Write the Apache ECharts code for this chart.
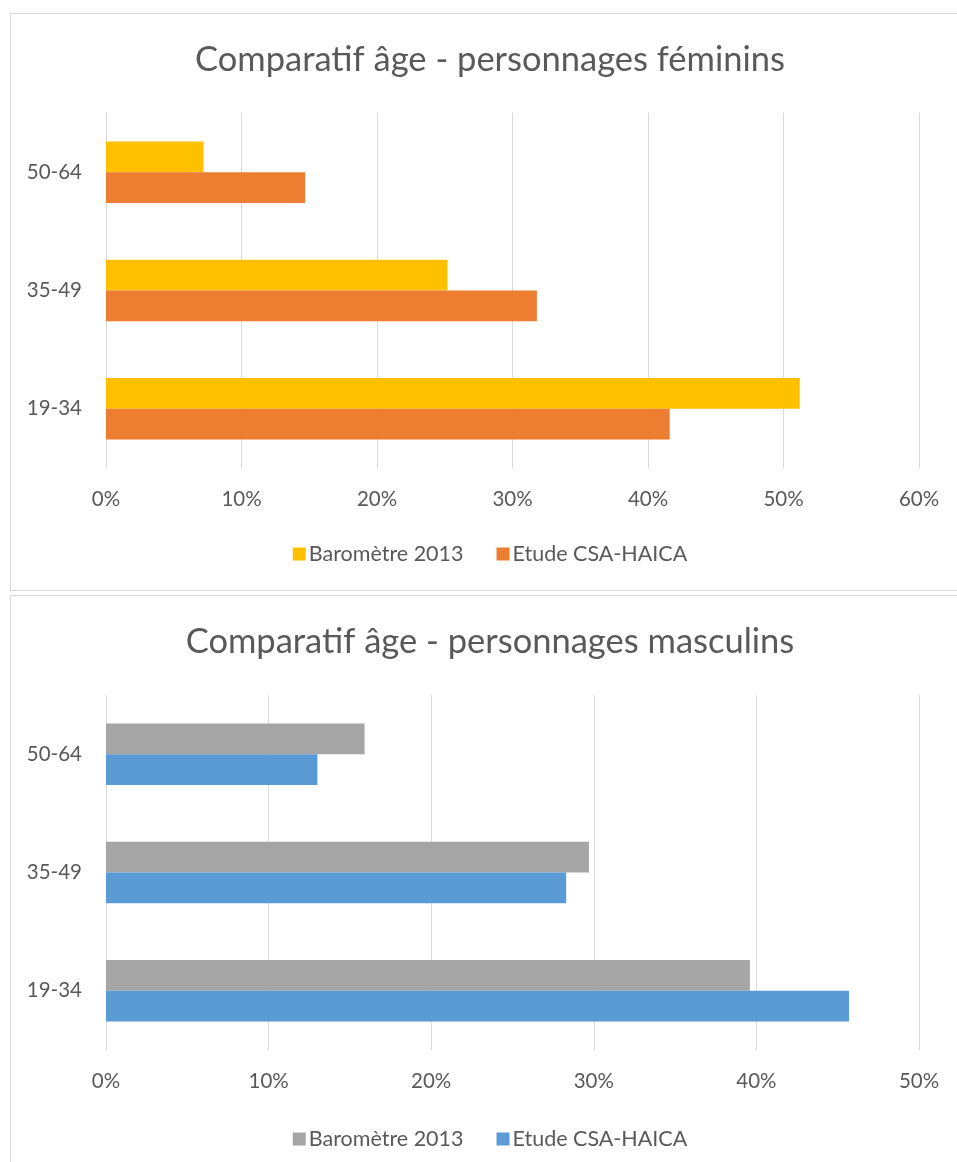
<!DOCTYPE html>
<html>
<head>
<meta charset="utf-8">
<script src="https://cdn.jsdelivr.net/npm/echarts@6/dist/echarts.min.js"></script>
<style>
  html, body { margin: 0; padding: 0; width: 957px; height: 1162px; overflow: hidden; background: #fff; }
  .frame { position: absolute; border: 1px solid #d9d9d9; box-sizing: border-box; }
  .chart { position: absolute; left: 10px; width: 960px; }
</style>
</head>
<body>
<div class="frame" style="left:10px; top:13px; width:960px; height:578px;"></div>
<div class="frame" style="left:10px; top:595px; width:960px; height:600px;"></div>
<div id="c1" class="chart" style="top:0px; height:592px;"></div>
<div id="c2" class="chart" style="top:592px; height:570px;"></div>
<script>
const categories = ['19-34', '35-49', '50-64'];
const seriesNames = ['Baromètre 2013', 'Etude CSA-HAICA'];
const femBarometre = [51.2, 25.2, 7.2];
const femEtude = [41.6, 31.8, 14.7];
const mascBarometre = [39.6, 29.7, 15.9];
const mascEtude = [45.7, 28.3, 13.0];
const femTitle = 'Comparatif âge - personnages féminins';
const mascTitle = 'Comparatif âge - personnages masculins';

const FONT = 'Lato';
const TXT = '#595959';

function makeOption(title, max, data1, data2, colors, layout) {
  return {
    animation: false,
    textStyle: { fontFamily: FONT },
    title: {
      text: title, left: 'center', top: layout.titleTop,
      textStyle: { fontFamily: FONT, fontSize: 34.5, fontWeight: 'normal', color: TXT }
    },
    legend: {
      top: layout.legendTop, left: 'center',
      itemWidth: 13, itemHeight: 13, itemGap: 33,
      icon: 'rect',
      textStyle: { fontFamily: FONT, fontSize: 21.5, color: TXT, padding: [0, 0, 0, -2] },
      data: seriesNames
    },
    grid: { left: 96, top: layout.gridTop, width: 813, height: 355, containLabel: false },
    xAxis: {
      type: 'value', min: 0, max: max, interval: 10,
      axisLine: { show: false }, axisTick: { show: false },
      axisLabel: { formatter: '{value}%', fontFamily: FONT, fontSize: 20.5, color: TXT, margin: 21 },
      splitLine: { show: true, lineStyle: { color: '#d9d9d9', width: 1 } }
    },
    yAxis: {
      type: 'category', data: categories,
      axisLine: { show: false }, axisTick: { show: false },
      axisLabel: { fontFamily: FONT, fontSize: 20.5, color: TXT, margin: 24 }
    },
    series: [
      { name: seriesNames[0], type: 'bar', data: data1, barWidth: '26%', barGap: '0%',
        itemStyle: { color: colors[0] } },
      { name: seriesNames[1], type: 'bar', data: data2, barWidth: '26%', barGap: '0%',
        itemStyle: { color: colors[1] } }
    ]
  };
}

const c1 = echarts.init(document.getElementById('c1'), null, { renderer: 'canvas' });
c1.setOption(makeOption(femTitle, 60, femBarometre, femEtude, ['#FFC000', '#ED7D31'],
  { titleTop: 37, legendTop: 538, gridTop: 113 }));

const c2 = echarts.init(document.getElementById('c2'), null, { renderer: 'canvas' });
c2.setOption(makeOption(mascTitle, 50, mascBarometre, mascEtude, ['#A5A5A5', '#5B9BD5'],
  { titleTop: 27, legendTop: 531, gridTop: 103 }));
</script>
</body>
</html>
